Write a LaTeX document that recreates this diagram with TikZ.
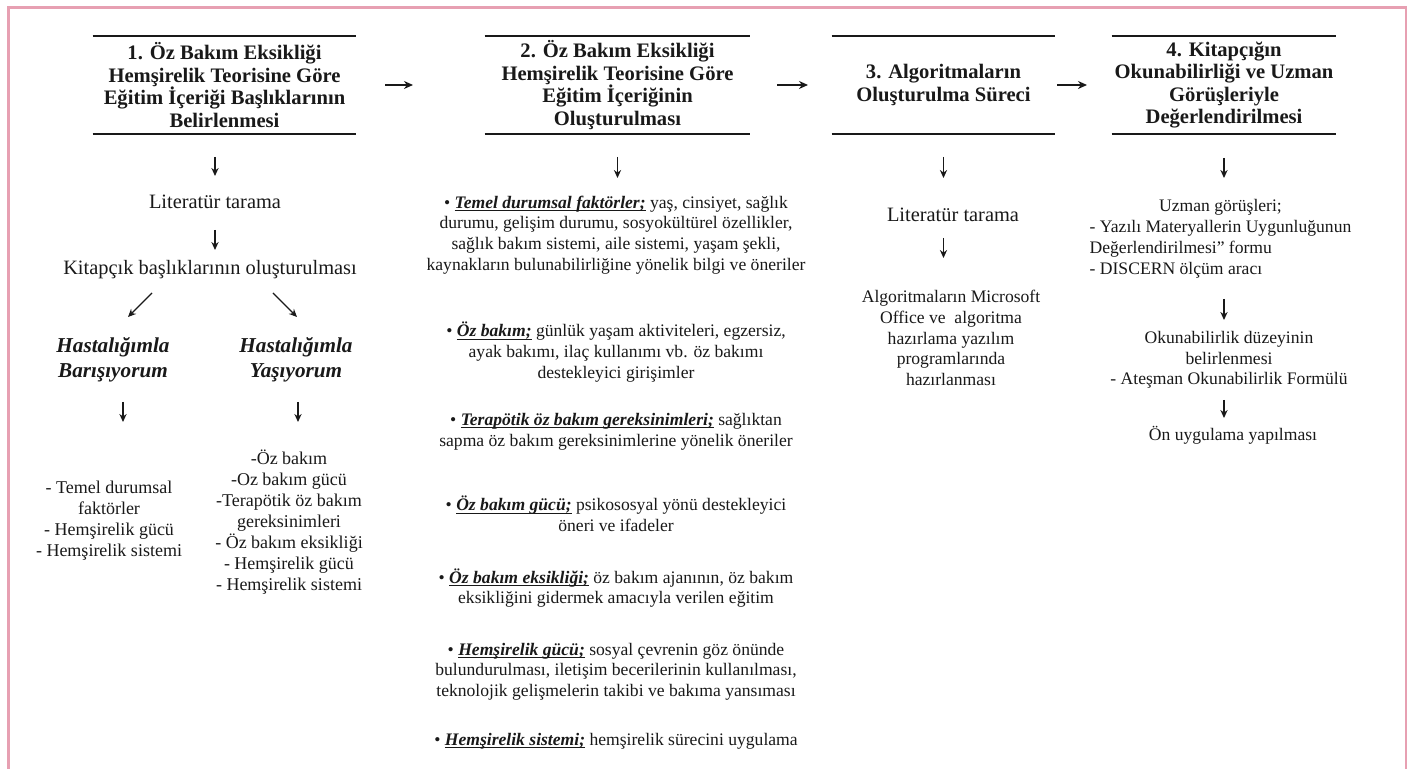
\documentclass[tikz,border=0pt]{standalone}
\usepackage{fontspec}
\setmainfont{Liberation Serif}
\usepackage{tikz}
\usetikzlibrary{positioning}
\usetikzlibrary{calc,arrows.meta}

\definecolor{framepink}{RGB}{231,160,178}
\definecolor{inkgray}{RGB}{25,25,25}
\newsavebox{\keybox}
\newcommand{\keyw}[1]{\sbox{\keybox}{\bfseries\itshape #1}\rlap{\rule[-1.3pt]{\wd\keybox}{0.45pt}}\usebox{\keybox}}

\tikzset{
	head/.style={font=\bfseries\fontsize{10.3}{11.25}\selectfont, align=center, inner sep=0pt, minimum height=48.5pt},
	rule/.style={line width=0.9pt},
	big/.style={font=\fontsize{10.2}{12}\selectfont, align=center, inner sep=0pt},
	sub/.style={font=\bfseries\itshape\fontsize{10.6}{12.5}\selectfont, align=center, inner sep=0pt},
	list/.style={font=\fontsize{9}{10.5}\selectfont, align=center, inner sep=0pt},
	para/.style={font=\fontsize{8.8}{10.3}\selectfont, align=center, inner sep=0pt},
	arr/.style={-{Stealth[length=4pt,width=3.6pt]}, line width=0.6pt},
	harr/.style={-{Stealth[length=4.5pt,width=4pt]}, line width=0.9pt},
	gap/.style 2 args={shorten <=#1*0.5pt, shorten >=#2*0.5pt},
}

\begin{document}
\begin{tikzpicture}[x=0.5pt, y=-0.5pt, inkgray]

	% ---------------------
	% Page & frame
	\useasboundingbox (0,0) rectangle (1410,769);
	\fill[white] (0,0) rectangle (1410,769);
	\draw[framepink, line width=1.1pt] (8.5,769) -- (8.5,7.5) -- (1406,7.5) -- (1406,769);

	% ---------------------
	% Headers
	\node[head, minimum width=131.5pt] (h1) at (224.5,85) {1. Öz Bakım Eksikliği\\Hemşirelik Teorisine Göre\\Eğitim İçeriği Başlıklarının\\Belirlenmesi};
	\node[head, minimum width=132.5pt] (h2) at (617.5,85) {2. Öz Bakım Eksikliği\\Hemşirelik Teorisine Göre\\Eğitim İçeriğinin\\Oluşturulması};
	\node[head, minimum width=111.5pt] (h3) at (943.5,85) {3. Algoritmaların\\Oluşturulma Süreci};
	\node[head, minimum width=112pt]   (h4) at (1224,85) {4. Kitapçığın\\Okunabilirliği ve Uzman\\Görüşleriyle\\Değerlendirilmesi};

	\foreach \h in {h1,h2,h3,h4}
		\draw[rule] (\h.north west) -- (\h.north east) (\h.south west) -- (\h.south east);

	\draw[harr, yshift=2pt, gap={160.5}{204.5}] (h1.center) -- (h2.center);
	\draw[harr, yshift=2pt, gap={159.5}{135.5}] (h2.center) -- (h3.center);
	\draw[harr, yshift=2pt, gap={113.5}{137}]   (h3.center) -- (h4.center);

	% ---------------------
	% Column 1
	\node[big] (lit1) at (215,202) {Literatür tarama};
	\node[big] (kit)  at (210,270) {Kitapçık başlıklarının oluşturulması};
	\node[sub] (hb)   at (113,360) {Hastalığımla\\Barışıyorum};
	\node[sub] (hy)   at (296,360) {Hastalığımla\\Yaşıyorum};
	\node[list] (lb)  at (109,521) {- Temel durumsal\\faktörler\\- Hemşirelik gücü\\- Hemşirelik sistemi};
	\node[list] (ly)  at (289,522.5) {-Öz bakım\\-Oz bakım gücü\\-Terapötik öz bakım\\gereksinimleri\\- Öz bakım eksikliği\\- Hemşirelik gücü\\- Hemşirelik sistemi};

	\draw[arr, gap={72}{26}] (h1 -| lit1) -- (lit1.center);
	\draw[arr, gap={28}{20}] (lit1.center) -- (lit1 |- kit);
	\draw[arr] ($(kit.center)+(-58,23)$) -- ($(hb.center)+(15,-43)$);
	\draw[arr] ($(kit.center)+(63,23)$)  -- ($(hy.center)+(1,-43)$);
	\draw[arr] ($(hb.center)+(10,42)$)   -- ($(lb.center)+(14,-99)$);
	\draw[arr] ($(hy.center)+(2,42)$)    -- ($(ly.center)+(9,-100.5)$);

	% ---------------------
	% Column 2
	\node[para] (tem) at (616,235) {• \keyw{Temel durumsal faktörler;} yaş, cinsiyet, sağlık\\durumu, gelişim durumu, sosyokültürel özellikler,\\sağlık bakım sistemi, aile sistemi, yaşam şekli,\\kaynakların bulunabilirliğine yönelik bilgi ve öneriler};
	\node[para] (ozb) at (616,352) {• \keyw{Öz bakım;} günlük yaşam aktiviteleri, egzersiz,\\ayak bakımı, ilaç kullanımı vb. öz bakımı\\destekleyici girişimler};
	\node[para] (ter) at (616,431.5) {• \keyw{Terapötik öz bakım gereksinimleri;} sağlıktan\\sapma öz bakım gereksinimlerine yönelik öneriler};
	\node[para] (ozg) at (616,514) {• \keyw{Öz bakım gücü;} psikososyal yönü destekleyici\\öneri ve ifadeler};
	\node[para] (oze) at (616,588) {• \keyw{Öz bakım eksikliği;} öz bakım ajanının, öz bakım\\eksikliğini gidermek amacıyla verilen eğitim};
	\node[para] (hgu) at (616,671.5) {• \keyw{Hemşirelik gücü;} sosyal çevrenin göz önünde\\bulundurulması, iletişim becerilerinin kullanılması,\\teknolojik gelişmelerin takibi ve bakıma yansıması};
	\node[para] (hsi) at (616,741) {• \keyw{Hemşirelik sistemi;} hemşirelik sürecini uygulama};

	\draw[arr, gap={72}{57}] (h2.center) -- (h2 |- tem);

	% ---------------------
	% Column 3
	\node[big]  (lit3) at (953,215) {Literatür tarama};
	\node[para] (alg)  at (951,338) {Algoritmaların Microsoft\\Office ve~ algoritma\\hazırlama yazılım\\programlarında\\hazırlanması};

	\draw[arr, gap={72}{37}] (h3.center) -- (h3 |- lit3);
	\draw[arr, gap={23}{80}] (h3 |- lit3) -- (h3 |- alg);

	% ---------------------
	% Column 4
	\node[para] (uz) at (1220.5,238.5) {\renewcommand{\arraystretch}{1.02}\begin{tabular}{@{}l@{}}\multicolumn{1}{@{}c@{}}{Uzman görüşleri;}\\- Yazılı Materyallerin Uygunluğunun\\Değerlendirilmesi” formu\\- DISCERN ölçüm aracı\end{tabular}};
	\node[para] (ok) at (1229,360) {Okunabilirlik düzeyinin\\belirlenmesi\\- Ateşman Okunabilirlik Formülü};
	\node[para] (on) at (1233,435) {Ön uygulama yapılması};

	\draw[arr, gap={73}{60.5}] (h4.center) -- (h4 |- uz);
	\draw[arr, gap={60.5}{40}] (h4 |- uz) -- (h4 |- ok);
	\draw[arr, gap={40}{17}]   (h4 |- ok) -- (h4 |- on);

\end{tikzpicture}
\end{document}
